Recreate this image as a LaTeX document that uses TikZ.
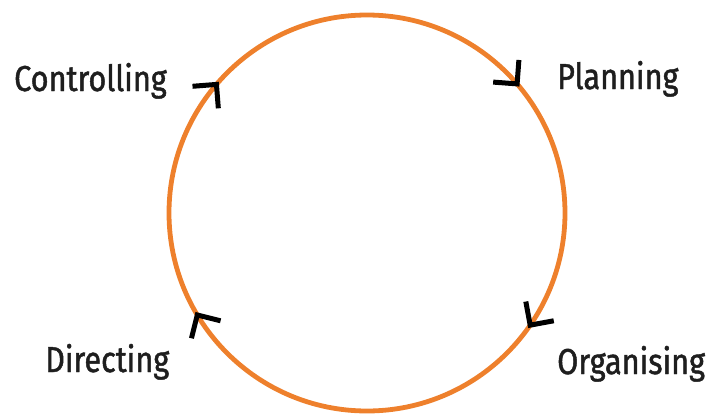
\documentclass[tikz,border=0pt]{standalone}
\usepackage{fontspec}
\setmainfont[FakeStretch=0.85,FakeBold=1.3]{Fira Sans}
\usepackage{tikz}
\definecolor{cycleorange}{RGB}{238,128,44}
\definecolor{labelgray}{RGB}{30,30,30}
\tikzset{ring/.style={draw=cycleorange,line width=4.8pt},
 chevron/.style={draw=black,line width=5pt,line join=miter,line cap=butt},
 stage/.style={anchor=base west,inner sep=0pt,text=labelgray,font=\fontsize{36}{40}\selectfont}}

\begin{document}
\begin{tikzpicture}[x=1pt,y=1pt]
\useasboundingbox (-367.000,-203.000) rectangle (342.000,213.000);
\draw[ring] (0.000,0.000) circle[radius=198pt];
\coordinate (ctrl) at (139.5:198pt);
\coordinate (plan) at (40.7:198pt);
\coordinate (orga) at (-34.5:198pt);
\coordinate (dire) at (211.0:198pt);
\draw[chevron] ([shift={(184.5:24pt)}]ctrl) -- (ctrl) -- ([shift={(274.5:24pt)}]ctrl);
\draw[chevron] ([shift={(85.7:24pt)}]plan) -- (plan) -- ([shift={(175.7:24pt)}]plan);
\draw[chevron] ([shift={(10.5:24pt)}]orga) -- (orga) -- ([shift={(100.5:24pt)}]orga);
\draw[chevron] ([shift={(256.0:24pt)}]dire) -- (dire) -- ([shift={(346.0:24pt)}]dire);
\node[stage] (controlling) at (-353.000,122.000) {Controlling};
\node[stage] (planning) at (190.000,124.000) {Planning};
\node[stage] (directing) at (-322.000,-159.000) {Directing};
\node[stage] (organising) at (190.000,-161.000) {Organising};
\end{tikzpicture}
\end{document}
